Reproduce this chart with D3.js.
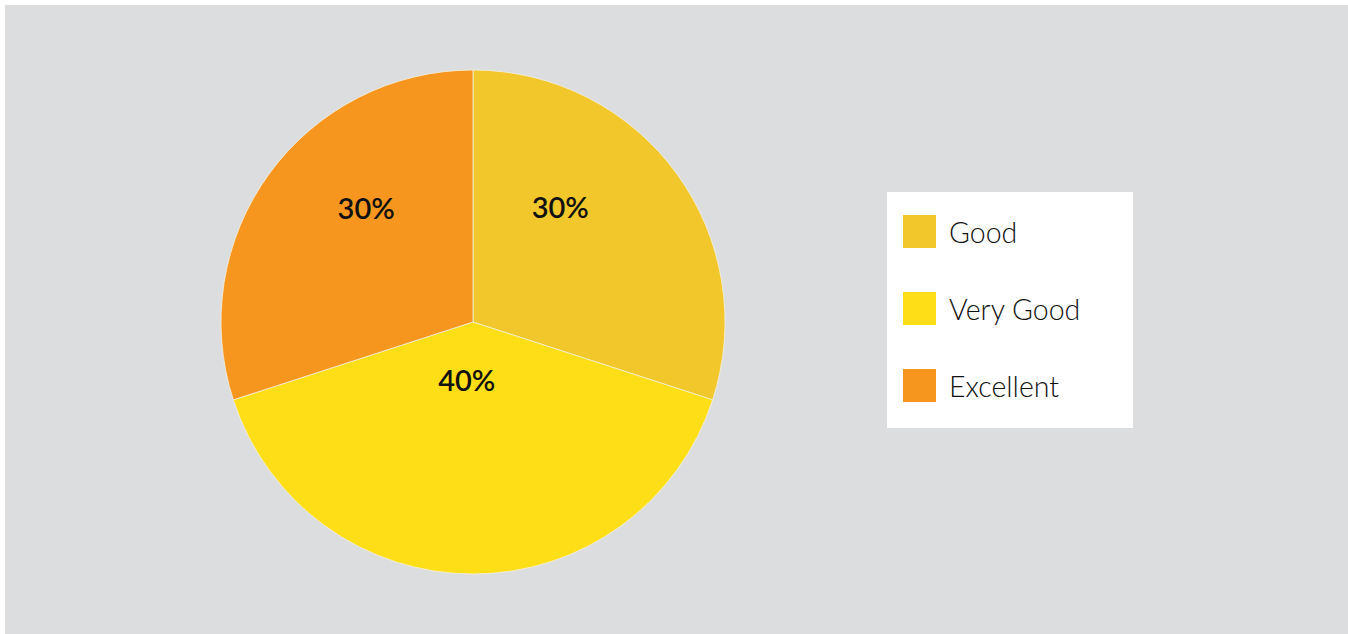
<!DOCTYPE html>
<html><head><meta charset="utf-8">
<script src="https://cdn.jsdelivr.net/npm/d3@7"></script>
<style>html,body{margin:0;padding:0;background:#fff;}svg{display:block;}</style>
</head><body>
<svg id="chart" width="1348" height="634"></svg>
<script>
const categories = ["Good", "Very Good", "Excellent"];
const values = [30, 40, 30];
const labels = ["30%", "40%", "30%"];
const colors = ["#F2C72B", "#FEDE17", "#F7961E"];
// label placement (angle in degrees from 12 o'clock, radius as fraction of pie radius)
const labelAngles = [37.6, 186, -43.4];
const labelRadii = [0.568, 0.236, 0.617];

const svg = d3.select("#chart");
const W = 1348, H = 634;
svg.append("rect").attr("x", 5).attr("y", 5).attr("width", W - 5).attr("height", H - 5).attr("fill", "#DCDDDF");

const cx = 473, cy = 322, R = 252;
const g = svg.append("g").attr("transform", `translate(${cx},${cy})`);
const pie = d3.pie().sort(null).value(d => d)(values);
const arc = d3.arc().innerRadius(0).outerRadius(R);
g.selectAll("path").data(pie).join("path")
  .attr("d", arc)
  .attr("fill", (d, i) => colors[i])
  .attr("stroke", "#F4F0E0").attr("stroke-width", 0.8);

const rScale = d3.scaleLinear().domain([0, 1]).range([0, R]);
g.selectAll("text.lbl").data(pie).join("text")
  .attr("class", "lbl")
  .attr("x", (d, i) => rScale(labelRadii[i]) * Math.sin(labelAngles[i] * Math.PI / 180))
  .attr("y", (d, i) => -rScale(labelRadii[i]) * Math.cos(labelAngles[i] * Math.PI / 180))
  .attr("dy", "-0.07em")
  .attr("text-anchor", "middle").attr("dominant-baseline", "central")
  .attr("font-family", "Lato, sans-serif").attr("font-size", 29).attr("font-weight", 600)
  .attr("fill", "#111")
  .text((d, i) => labels[i]);

// legend
const lg = svg.append("g").attr("transform", "translate(887,192)");
lg.append("rect").attr("width", 246).attr("height", 236).attr("fill", "#fff");
const ly = d3.scalePoint().domain(categories).range([0, 154]);
const items = lg.selectAll("g.item").data(categories).join("g").attr("class", "item")
  .attr("transform", d => `translate(16,${23 + ly(d)})`);
items.append("rect").attr("width", 33).attr("height", 33).attr("fill", (d, i) => colors[i]);
items.append("text").attr("x", 46).attr("y", 17)
  .attr("dominant-baseline", "central")
  .attr("font-family", "Lato, sans-serif").attr("font-weight", 300).attr("font-size", 28.5)
  .attr("fill", "#111").text(d => d);
</script>
</body></html>
